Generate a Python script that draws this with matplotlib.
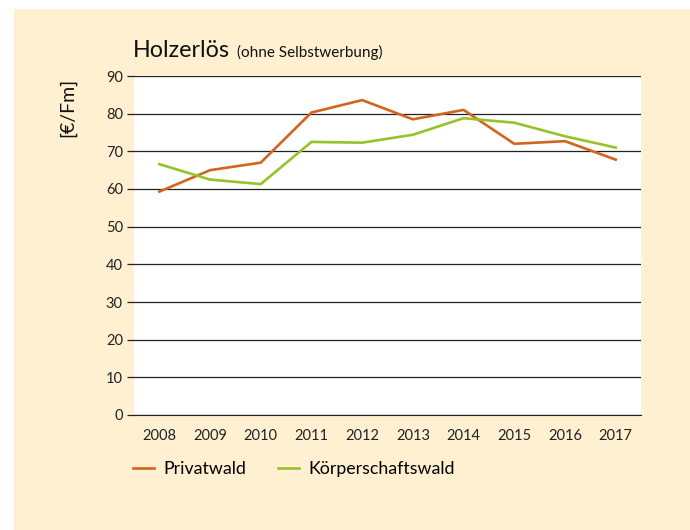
import matplotlib
matplotlib.use('Agg')
import matplotlib.pyplot as plt
from matplotlib.patches import Rectangle

plt.rcParams['font.family'] = ['Lato', 'DejaVu Sans']

jahre = ['2008', '2009', '2010', '2011', '2012', '2013', '2014', '2015', '2016', '2017']
privatwald = [59.3, 65.0, 67.0, 80.3, 83.6, 78.5, 81.0, 72.0, 72.7, 67.8]
koerperschaftswald = [66.6, 62.5, 61.3, 72.5, 72.3, 74.4, 78.8, 77.6, 74.0, 71.0]
yticks = [0, 10, 20, 30, 40, 50, 60, 70, 80, 90]

fig = plt.figure(figsize=(6.9, 5.3), dpi=100)
fig.patch.set_facecolor('white')
# cremefarbener Hintergrund
fig.patches.append(Rectangle((14 / 690, 0), 1, 1 - 9 / 530, transform=fig.transFigure,
                             facecolor='#FEF0D0', edgecolor='none', zorder=-10))

ax = fig.add_axes([134 / 690, 1 - 415 / 530, (641 - 134) / 690, (415 - 76) / 530])
ax.set_facecolor('white')

x = range(len(jahre))
ax.plot(x, privatwald, color='#D2651E', lw=1.9, label='Privatwald', zorder=3)
ax.plot(x, koerperschaftswald, color='#96C22B', lw=1.9, label='Körperschaftswald', zorder=3)

ax.set_xlim(-0.5, 9.5)
ax.set_ylim(0, 90)
ax.set_yticks(yticks)
ax.set_xticks(list(x))
ax.set_xticklabels(jahre)
ax.grid(axis='y', color='#222222', lw=0.9)
ax.set_axisbelow(True)
for s in ['top', 'right', 'left']:
    ax.spines[s].set_visible(False)
ax.spines['bottom'].set_color('#222222')
ax.tick_params(axis='y', length=5, width=0.9, color='#222222', pad=3, labelsize=10.5, labelcolor='#222222')
ax.tick_params(axis='x', length=0, pad=10, labelsize=10.5, labelcolor='#222222')

fig.text(133 / 690, 1 - 57 / 530, 'Holzerlös', fontsize=16.8, color='#111111', va='baseline')
fig.text(237 / 690, 1 - 57 / 530, '(ohne Selbstwerbung)', fontsize=11, color='#111111', va='baseline')
fig.text(68 / 690, 1 - 107 / 530, '[€/Fm]', fontsize=14, rotation=90, color='#111111',
         ha='center', va='center')

fig.legend(loc='center left', bbox_to_anchor=(117 / 690, 1 - 469 / 530), ncol=2, frameon=False,
           fontsize=12.8, handlelength=1.2, handletextpad=0.5, columnspacing=1.8)

fig.savefig('out.png', dpi=100)
